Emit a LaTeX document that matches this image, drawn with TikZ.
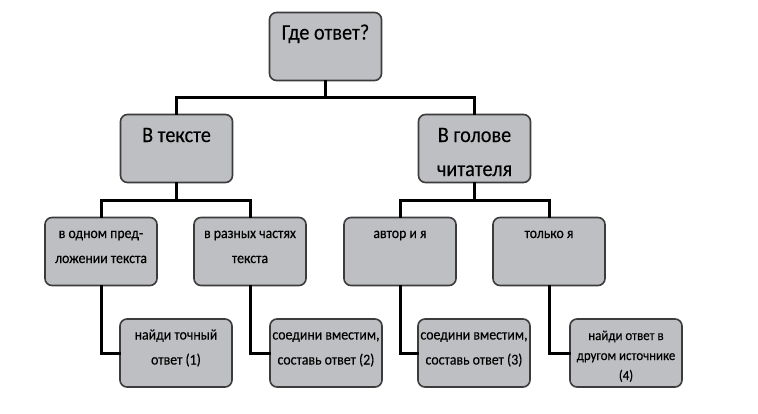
\documentclass[tikz,border=0pt]{standalone}
\usepackage{fontspec}
\setmainfont{Carlito}[FakeStretch=0.92, FakeBold=0.3]
\usetikzlibrary{calc}
\definecolor{boxgrey}{RGB}{190,191,194}
\definecolor{edgegrey}{RGB}{60,60,60}
\newcommand{\boxtxt}[4]{\parbox[t][68pt][t]{112pt}{\centering\fontsize{#1}{#2}\selectfont\rule{0pt}{#3}#4}}
\tikzset{
	box/.style={draw=edgegrey, line width=1.6pt, fill=boxgrey, rounded corners=7pt, inner sep=0pt},
	link/.style={line width=3pt, line cap=rect}
}

\begin{document}
\begin{tikzpicture}[x=1pt,y=-1pt]
		\useasboundingbox[fill=white] (0,0) rectangle (758,413);
		\node [box] (q) at (325.5,46.5) {\boxtxt{22}{34}{27pt}{Где ответ?}};
		\node [box] (t) at (176.5,148.5) {\boxtxt{22}{34}{27.5pt}{В тексте}};
		\node [box] (r) at (474.5,148.5) {\boxtxt{22}{34}{27.5pt}{В голове\\читателя}};
		\node [box] (t1) at (101,251.5) {\boxtxt{15}{25}{20.5pt}{в одном пред-\\ложении текста}};
		\node [box] (t2) at (250,251.5) {\boxtxt{15}{25}{20.5pt}{в разных частях\\текста}};
		\node [box] (r1) at (400,251.5) {\boxtxt{15}{25}{20.5pt}{автор и я}};
		\node [box] (r2) at (549,251.5) {\boxtxt{15}{25}{20.5pt}{только я}};
		\node [box] (a1) at (176,353) {\boxtxt{15}{25}{20.5pt}{найди точный\\ответ (1)}};
		\node [box] (a2) at (326,353) {\boxtxt{15}{25}{20.5pt}{соедини вместим,\\составь ответ (2)}};
		\node [box] (a3) at (474,353) {\boxtxt{15}{25}{20.5pt}{соедини вместим,\\составь ответ (3)}};
		\node [box] (a4) at (626,353) {\boxtxt{14}{20}{21pt}{найди ответ в\\другом источнике\\(4)}};
		% forks
		\coordinate (qf) at ($(q.south)!0.5!(q.south |- t.north)$);
		\coordinate (tf) at ($(t.south)!0.5!(t.south |- t1.north)$);
		\coordinate (rf) at ($(r.south)!0.5!(r.south |- r1.north)$);
		\draw [link] (q.south) -- (qf) (t.north) |- (qf) -| (r.north);
		\draw [link] (t.south) -- (tf) (t1.north) |- (tf) -| (t2.north);
		\draw [link] (r.south) -- (rf) (r1.north) |- (rf) -| (r2.north);
		\draw [link] (t1.south) |- (a1.west) (t2.south) |- (a2.west);
		\draw [link] (r1.south) |- (a3.west) (r2.south) |- (a4.west);
		\end{tikzpicture}
\end{document}
